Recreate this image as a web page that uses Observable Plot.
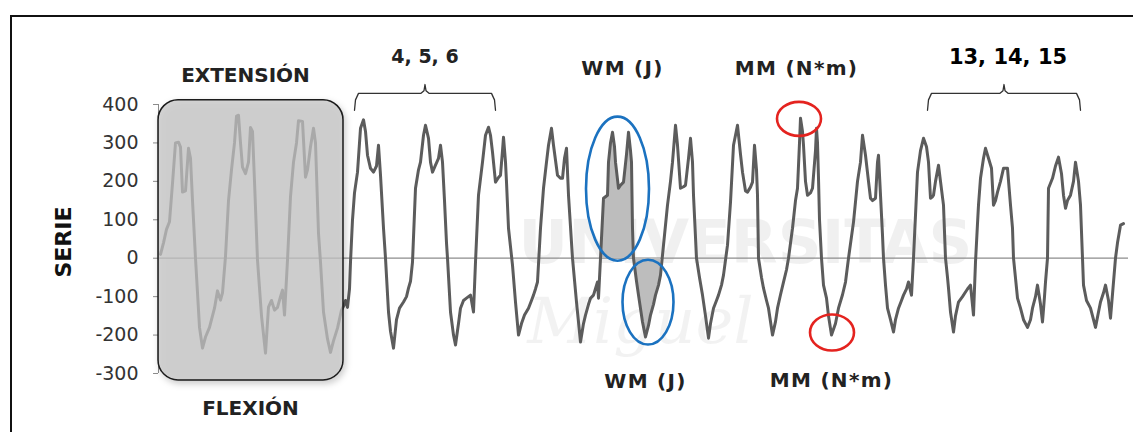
<!DOCTYPE html>
<html>
<head>
<meta charset="utf-8">
<script src="https://cdn.jsdelivr.net/npm/d3@7"></script>
<script src="https://cdn.jsdelivr.net/npm/@observablehq/plot@0.6"></script>
<style>
  html, body { margin: 0; padding: 0; background: #fff; overflow: hidden; width: 1133px; height: 432px; }
  #chart { position: absolute; left: 0; top: 0; }
  #marco { position: absolute; left: 10px; top: 15px; width: 1200px; height: 500px;
           border: 2.5px solid #111; box-sizing: border-box; pointer-events: none; z-index: 2; }
</style>
</head>
<body>
<div id="chart"></div>
<div id="marco"></div>
<script>
// Registro continuo de 15 ciclos extensión/flexión (tiempo en muestras)
const tiempo = [
  2, 5, 8, 11, 14, 17, 20, 22, 24, 27, 30, 32, 34, 37, 41, 44, 47, 51, 56, 59, 62, 64,
  67, 70, 73, 76, 78, 80, 82, 84, 87, 90, 92, 94, 96, 99, 103, 107, 110, 113, 116, 119,
  122, 124, 126, 129, 132, 135, 138, 140, 144, 147, 149, 152, 155, 157, 160, 162, 165, 169,
  172, 175, 179, 183, 185, 187, 189, 191,
  192, 194, 196, 199, 202, 205, 207, 209, 212, 215, 218, 220, 222, 225, 227, 230, 232, 235,
  238, 241, 245, 248, 250, 252, 254, 257, 260, 262, 265, 267, 270, 272, 274, 277, 280, 282,
  284, 286, 288, 289, 292, 295, 297, 300, 302, 305, 308, 312, 315, 317, 320, 324, 327, 330,
  332, 334, 337, 340, 342, 344, 345, 347, 348, 350, 354, 357, 360, 363, 366, 370, 373, 375,
  377, 379, 382, 385, 388, 390, 393, 395, 399, 402, 404, 406, 408, 410, 414, 418, 422, 425,
  427, 430, 432, 435, 439, 440, 442, 445, 447, 449, 450, 452, 454, 456, 457, 460, 462, 465,
  468, 470, 472, 473, 474, 475, 478, 480, 484, 487, 490, 492, 495, 497, 500, 502, 505, 509,
  512, 514, 517, 519, 522, 525, 527, 530, 532, 534, 535, 538, 541, 544, 547, 550, 552, 555,
  558, 560, 563, 565, 569, 572, 575, 577, 579, 582, 584, 587, 589, 592, 594, 596, 598, 599,
  600, 603, 605, 608, 610, 614, 617, 619, 622, 625, 628, 630, 634, 637, 639, 641, 642, 644,
  645, 647, 649, 652, 654, 657, 658, 659, 660, 661, 663, 665, 668, 670, 673, 677, 680, 684,
  687, 690, 695, 699, 702, 704, 707, 710, 712, 714, 717, 719, 720, 722, 724, 725, 727, 729,
  732, 735, 737, 740, 743, 745, 748, 750, 753, 755, 757, 759, 762, 765, 768, 770, 772, 774,
  775, 777, 780, 782, 785, 787, 789, 790, 792, 795, 797, 800, 804, 807, 809, 812, 815, 817,
  819, 820, 822, 825, 827, 830, 833, 835, 837, 839, 842, 845, 849, 852, 854, 855, 857, 859,
  862, 865, 869, 872, 874, 877, 879, 882, 884, 886, 887, 889, 890, 894, 897, 900, 903, 905,
  907, 909, 912, 915, 917, 920, 922, 924, 925, 928, 932, 935, 937, 940, 942, 945, 947, 950,
  952, 955, 957, 959, 962, 965, 967, 969
];
const serie = [
  10, 40, 75, 95, 195, 300, 302, 289, 172, 175, 286, 260, 150, 0, -180, -234, -205, -180, -130, -85, -109, -90,
  5, 150, 230, 300, 370, 372, 300, 237, 220, 250, 340, 330, 200, -5, -150, -247, -127, -110, -135, -128,
  -100, -83, -148, -5, 160, 250, 300, 358, 356, 211, 230, 290, 338, 300, 65, -10, -140, -210,
  -245, -215, -182, -135, -125, -110, -128, -80,
  -10, 100, 170, 224, 338, 360, 330, 268, 234, 224, 240, 294, 216, 78, 0, -140, -190, -234,
  -160, -130, -114, -100, -78, -60, -10, 182, 230, 250, 320, 346, 312, 250, 224, 242, 260, 294,
  250, 150, 40, 0, -140, -200, -226, -170, -130, -110, -104, -96, -140, -10, 164, 250, 320, 341,
  320, 276, 198, 210, 216, 280, 315, 250, 198, 78, -18, -114, -200, -170, -148, -130, -110, -96,
  -80, -62, 78, 182, 250, 294, 338, 294, 216, 208, 208, 260, 286, 164, 0, -114, -218, -170,
  -148, -120, -104, -96, -62, -104, 0, 156, 160, 164, 250, 300, 328, 290, 250, 182, 190, 198,
  270, 328, 280, 250, 78, 0, -60, -96, -166, -205, -175, -148, -120, -96, -70, -44, 34, 138,
  200, 250, 346, 294, 182, 186, 190, 260, 312, 250, 164, 0, -50, -96, -150, -208, -170, -130,
  -110, -96, -70, -44, 34, 146, 294, 320, 346, 270, 224, 175, 172, 185, 198, 294, 230, 164,
  0, -50, -78, -110, -130, -200, -165, -130, -95, -62, -30, 0, 78, 150, 182, 300, 364, 330,
  294, 200, 164, 170, 182, 280, 338, 300, 208, 100, 0, -70, -104, -150, -200, -170, -130, -95,
  -62, 0, 94, 200, 250, 320, 268, 200, 156, 150, 156, 250, 268, 164, 60, 0, -70, -130,
  -160, -192, -160, -130, -110, -96, -80, -62, -96, 0, 112, 224, 280, 312, 290, 250, 156, 160,
  164, 200, 242, 200, 138, 0, -50, -78, -140, -192, -150, -114, -100, -88, -80, -70, -148, -10,
  90, 138, 208, 260, 286, 260, 234, 138, 150, 172, 200, 234, 234, 138, 78, 0, -52, -104,
  -130, -160, -180, -160, -130, -100, -70, -120, -166, -100, -62, 0, 182, 208, 240, 263, 220, 164,
  130, 150, 164, 200, 250, 200, 138, 0, -70, -110, -130, -160, -180, -140, -114, -90, -70, -110,
  -156, -62, 0, 40, 86, 90
];
const ticksY = [-300, -200, -100, 0, 100, 200, 300, 400];

// Ciclos 1-3 agrupados (extensión arriba, flexión abajo)
const caja = [{desde: 0, hasta: 185, abajo: -318, arriba: 411}];
// Grupos de ciclos señalados con llave
const grupos = [
  {etiqueta: "4, 5, 6", desde: 196, hasta: 337},
  {etiqueta: "13, 14, 15", desde: 769, hasta: 922}
];
// Ciclo 8: trabajo mecánico (WM) como área bajo la curva; cambio de signo en t = 475
const tramoWM = [442, 502];
const corteWM = 475;
// Ciclo 11: momento máximo y mínimo (MM)
const cicloMM = [630, 695];

const etiquetas = [
  {texto: "EXTENSIÓN", t: 87, v: 458},
  {texto: "FLEXIÓN", t: 92, v: -409},
  {texto: "WM (J)", t: 464, v: 476},
  {texto: "WM (J)", t: 487, v: -338},
  {texto: "MM (N*m)", t: 638, v: 476},
  {texto: "MM (N*m)", t: 673, v: -336}
];

const datos = tiempo.map((t, i) => ({t, v: serie[i]}));
const datosWM = datos.filter(d => d.t >= tramoWM[0] && d.t <= tramoWM[1]);

// Trazado de una llave horizontal sobre un grupo de ciclos
function llave(g) {
  const m = (g.desde + g.hasta) / 2;
  return [
    [g.desde, 385], [g.desde + 1, 412], [g.desde + 4, 429],
    [m - 4, 429], [m - 1, 436], [m, 452], [m + 1, 436], [m + 4, 429],
    [g.hasta - 4, 429], [g.hasta - 1, 412], [g.hasta, 385]
  ].map(([t, v]) => ({t, v, g: g.etiqueta}));
}
const llaves = grupos.flatMap(llave);

const plot = Plot.plot({
  width: 1133,
  height: 432,
  marginLeft: 158,
  marginRight: 5,
  marginTop: 104,
  marginBottom: 59,
  style: {fontFamily: "DejaVu Sans", background: "transparent"},
  x: {domain: [0, 970], range: [158, 1128], axis: null},
  y: {domain: [-300, 400], range: [373, 104], axis: null},
  marks: [
    // marca de agua del repositorio
    Plot.text(["UNIVERSITAS"], {x: 587, y: 39, text: d => d, fontSize: 61, fontWeight: "bold",
      fill: "#000", fillOpacity: 0.06, textAnchor: "middle", lineAnchor: "middle"}),
    Plot.text(["Miguel"], {x: 482, y: -167, text: d => d, fontSize: 64, fontStyle: "italic",
      fontFamily: "DejaVu Serif", fill: "#000", fillOpacity: 0.05, textAnchor: "middle", lineAnchor: "middle"}),
    Plot.ruleY([0], {stroke: "#8c8c8c", strokeWidth: 1.2}),
    Plot.ruleX([0], {y1: -300, y2: 400, stroke: "#8c8c8c", strokeWidth: 1}),
    Plot.axisY({ticks: ticksY, tickFormat: d => String(d), tickSize: 5, tickPadding: 15, fontSize: 19,
      stroke: "#8c8c8c", fill: "#333", label: null}),
    Plot.text(["SERIE"], {x: -95, y: 42, text: d => d, rotate: -90, fontSize: 22,
      fontWeight: "bold", fill: "#111", textAnchor: "middle", lineAnchor: "middle"}),
    Plot.areaY(datosWM, {x: "t", y: "v", fill: "#bdbdbd"}),
    Plot.line(datos, {x: "t", y: "v", stroke: "#5c5c5c", strokeWidth: 3, strokeLinejoin: "round"}),
    Plot.rect(caja, {x1: "desde", x2: "hasta", y1: "abajo", y2: "arriba", rx: 20,
      fill: "rgb(197,197,197)", fillOpacity: 0.73, stroke: "#1a1a1a", strokeWidth: 1.5}),
    Plot.line(llaves, {x: "t", y: "v", z: "g", stroke: "#333", strokeWidth: 1.3}),
    Plot.text(grupos.filter(g => g.etiqueta === "4, 5, 6"), {x: d => (d.desde + d.hasta) / 2, y: 507,
      text: "etiqueta", fontSize: 19, fontWeight: "bold", fill: "#222", lineAnchor: "bottom"}),
    Plot.text(grupos.filter(g => g.etiqueta !== "4, 5, 6"), {x: d => (d.desde + d.hasta) / 2 + 4, y: 505,
      text: "etiqueta", fontSize: 21, fontWeight: "bold", fill: "#000", lineAnchor: "bottom"}),
    Plot.text(etiquetas, {x: "t", y: "v", text: "texto", fontSize: 20, fontWeight: "bold",
      fill: "#222", lineAnchor: "bottom"})
  ]
});
document.getElementById("chart").appendChild(plot);

const svg = d3.select(plot);

// Etiquetas WM/MM algo más espaciadas
svg.selectAll("text").filter(function() {
  const s = this.textContent;
  return s === "WM (J)" || s === "MM (N*m)";
}).style("letter-spacing", "1.3px");

// Sombra suave de la caja de los ciclos 1-3
const defs = svg.append("defs");
defs.append("filter").attr("id", "sombra-caja").attr("x", "-10%").attr("y", "-10%")
  .attr("width", "125%").attr("height", "125%")
  .append("feDropShadow").attr("dx", 2).attr("dy", 3).attr("stdDeviation", 3)
  .attr("flood-color", "#000").attr("flood-opacity", 0.25);
svg.selectAll("rect").filter(function() { return this.getAttribute("rx") != null; })
  .attr("filter", "url(#sombra-caja)");

// Elipses de señalización, situadas con las escalas del gráfico
const sx = plot.scale("x").apply, sy = plot.scale("y").apply;
const elipses = [];

// WM: lóbulo positivo y negativo del ciclo 8
const pos = datosWM.filter(d => d.t <= corteWM), neg = datosWM.filter(d => d.t >= corteWM);
{
  const x0 = sx(d3.min(pos, d => d.t)), x1 = sx(d3.max(pos, d => d.t));
  const top = sy(d3.max(pos, d => d.v)) - 15, bot = sy(0) + 3;
  elipses.push({cx: (x0 + x1) / 2 + 1, cy: (top + bot) / 2, rx: (x1 - x0) / 2 + 15, ry: (bot - top) / 2, c: "#1b72c0"});
}
{
  const x0 = sx(d3.min(neg, d => d.t)), x1 = sx(d3.max(neg, d => d.t));
  const top = sy(0) + 2, bot = sy(d3.min(neg, d => d.v)) + 8;
  elipses.push({cx: (x0 + x1) / 2 + 1.5, cy: (top + bot) / 2, rx: (x1 - x0) / 2 + 12, ry: (bot - top) / 2, c: "#1b72c0"});
}
// MM: máximo y mínimo del ciclo 11
const ciclo = datos.filter(d => d.t >= cicloMM[0] && d.t <= cicloMM[1]);
const maxi = d3.greatest(ciclo, d => d.v), mini = d3.least(ciclo, d => d.v);
elipses.push({cx: sx(maxi.t) - 1, cy: sy(maxi.v) + 1, rx: 22, ry: 17, c: "#e4231f"});
elipses.push({cx: sx(mini.t) + 1, cy: sy(mini.v) - 2, rx: 22, ry: 18, c: "#e4231f"});

svg.append("g").selectAll("ellipse").data(elipses).join("ellipse")
  .attr("cx", d => d.cx).attr("cy", d => d.cy)
  .attr("rx", d => d.rx).attr("ry", d => d.ry)
  .attr("fill", "none").attr("stroke", d => d.c).attr("stroke-width", 2.6);
</script>
</body>
</html>
